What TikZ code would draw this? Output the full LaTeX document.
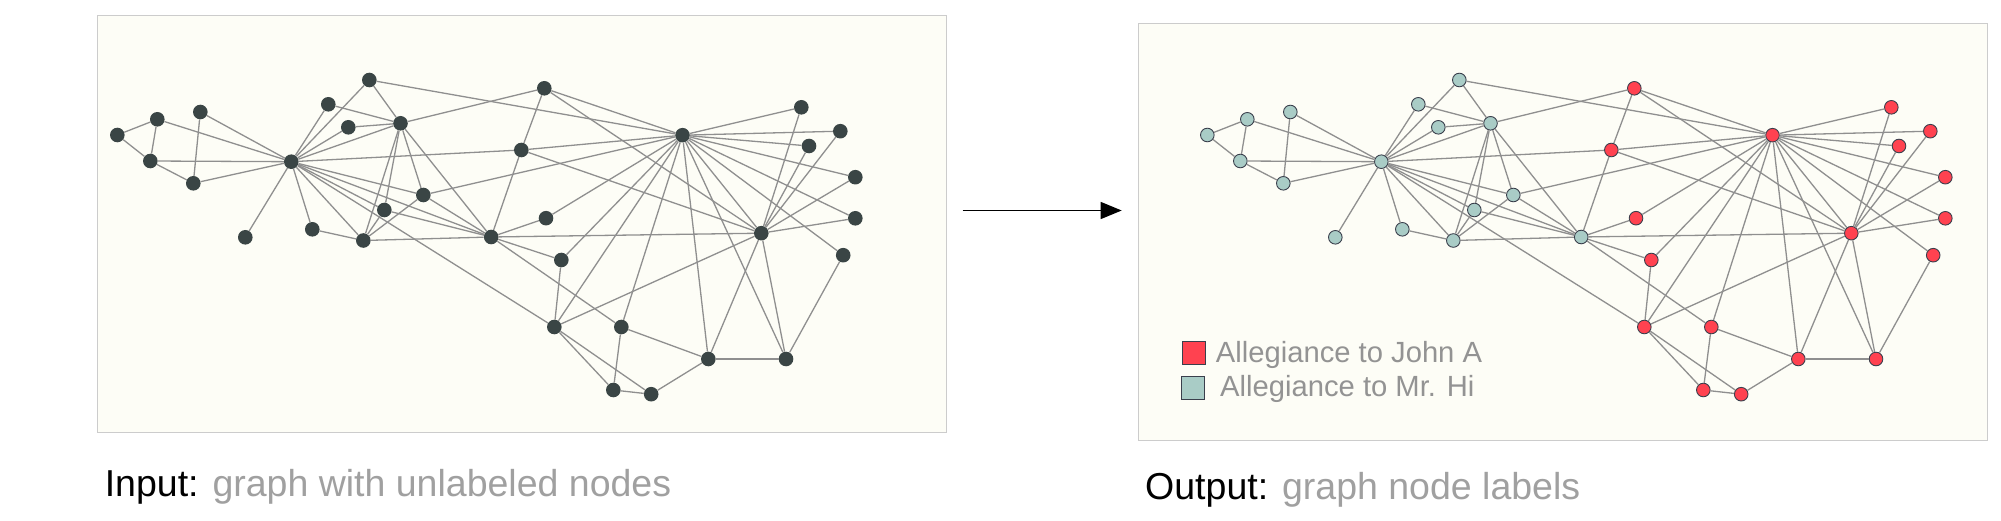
\documentclass[tikz,border=0pt]{standalone}
\usepackage{fontspec}
\setmainfont{Liberation Sans}
\usetikzlibrary{arrows.meta}
\definecolor{panelbg}{HTML}{FDFDF6}
\definecolor{panelframe}{HTML}{CCCCCC}
\definecolor{edgegray}{HTML}{8F8F8F}
\definecolor{nodedark}{HTML}{3A4545}
\definecolor{johnred}{HTML}{FF4250}
\definecolor{hiteal}{HTML}{A9CCC6}
\definecolor{nodeline}{HTML}{3A3F4C}
\definecolor{labelgray}{HTML}{A0A0A0}
\definecolor{legendgray}{HTML}{939393}

\def\nodelist{1/291.3/161.7/mrhi, 2/400.5/123.3/mrhi, 3/491.2/237/mrhi, 4/363.3/240.5/mrhi,
5/200.3/112/mrhi, 6/150.3/161/mrhi, 7/157.3/119.3/mrhi, 8/384.3/210/mrhi,
9/521.3/150/johna, 10/546/218.2/johna, 11/193.3/183.3/mrhi, 12/245.3/237.3/mrhi,
13/312.3/229.3/mrhi, 14/423.3/195/mrhi, 15/801.3/107.3/johna, 16/840.3/131.2/johna,
17/117.3/135/mrhi, 18/328.3/104.3/mrhi, 19/809/146/johna, 20/369.3/80/mrhi,
21/855.3/177.2/johna, 22/348.3/127.3/mrhi, 23/855.3/218.3/johna, 24/708.3/359/johna,
25/613.3/390/johna, 26/651.2/394.2/johna, 27/843.2/255.2/johna, 28/621.3/327/johna,
29/561.3/260/johna, 30/786/359/johna, 31/544.3/88.3/johna, 32/554.3/327/johna,
33/761.3/233.2/johna, 34/682.5/135.2/johna}

\def\edgelist{1/2,1/3,1/4,1/5,1/6,1/7,1/8,1/9,1/11,1/12,1/13,1/14,1/18,1/20,1/22,1/32,
2/3,2/4,2/8,2/14,2/18,2/20,2/22,2/31,
3/4,3/8,3/9,3/10,3/14,3/28,3/29,3/33,
4/8,4/13,4/14,5/11,6/7,6/11,6/17,7/17,
9/31,9/33,9/34,10/34,14/34,15/33,15/34,16/33,16/34,19/33,19/34,20/34,
21/33,21/34,23/33,23/34,24/26,24/28,24/30,24/33,24/34,25/26,25/28,25/32,
26/32,27/30,27/34,28/34,29/32,29/34,30/33,30/34,31/33,31/34,32/33,32/34,33/34}

\begin{document}
\begin{tikzpicture}[x=1pt,y=-1pt,
  panel/.style={draw=panelframe, fill=panelbg, line width=1pt},
  gedge/.style={draw=edgegray, line width=1.3pt},
  plainnode/.style={circle, fill=nodedark, inner sep=0pt, minimum size=14.6pt},
  labnode/.style={circle, draw=nodeline, line width=0.9pt, inner sep=0pt, minimum size=13.6pt},
  mrhi/.style={labnode, fill=hiteal},
  johna/.style={labnode, fill=johnred},
  legbox/.style={draw=nodeline, line width=1pt, inner sep=0pt, minimum size=22.6pt},
  caption/.style={anchor=base west, inner sep=0pt, font=\fontsize{37.5}{40}\selectfont},
  legtext/.style={anchor=base west, inner sep=0pt, text=legendgray, font=\fontsize{29.2}{32}\selectfont}
]
\useasboundingbox (0,0) rectangle (2001,521);

% panels
\draw[panel] (97.3,15.7) rectangle (946.3,432);
\draw[panel] (1138.3,23.3) rectangle (1987.3,440.3);

% input graph
\foreach \i/\x/\y/\c in \nodelist { \node[plainnode] (l\i) at (\x,\y) {}; }
\foreach \a/\b in \edgelist { \draw[gedge] (l\a) -- (l\b); }

% output graph
\begin{scope}[xshift=1090pt]
\foreach \i/\x/\y/\c in \nodelist { \node[\c] (r\i) at (\x,\y) {}; }
\foreach \a/\b in \edgelist { \draw[gedge] (r\a) -- (r\b); }
\end{scope}

% arrow
\coordinate (arrtail) at (962.7,210.5);
\coordinate (arrtip) at (1121.7,210.5);
\draw[line width=1.3pt, -{Triangle[length=21pt,width=17pt]}] (arrtail) -- (arrtip);

% legend
\node[legbox, fill=johnred] (legred) at (1194,353) {};
\node[legbox, fill=hiteal] (legteal) at (1193,387.7) {};
\node[legtext] (legredtext) at (1215.7,362.3) {Allegiance to John A};
\node[legtext] (legtealtext) at (1220,396.7) {Allegiance to Mr. Hi};

% captions
\node[caption] (incap) at (104.6,496) {Input: \textcolor{labelgray}{graph with unlabeled nodes}};
\node[caption] (outcap) at (1145,499) {Output: \textcolor{labelgray}{graph node labels}};
\end{tikzpicture}
\end{document}
